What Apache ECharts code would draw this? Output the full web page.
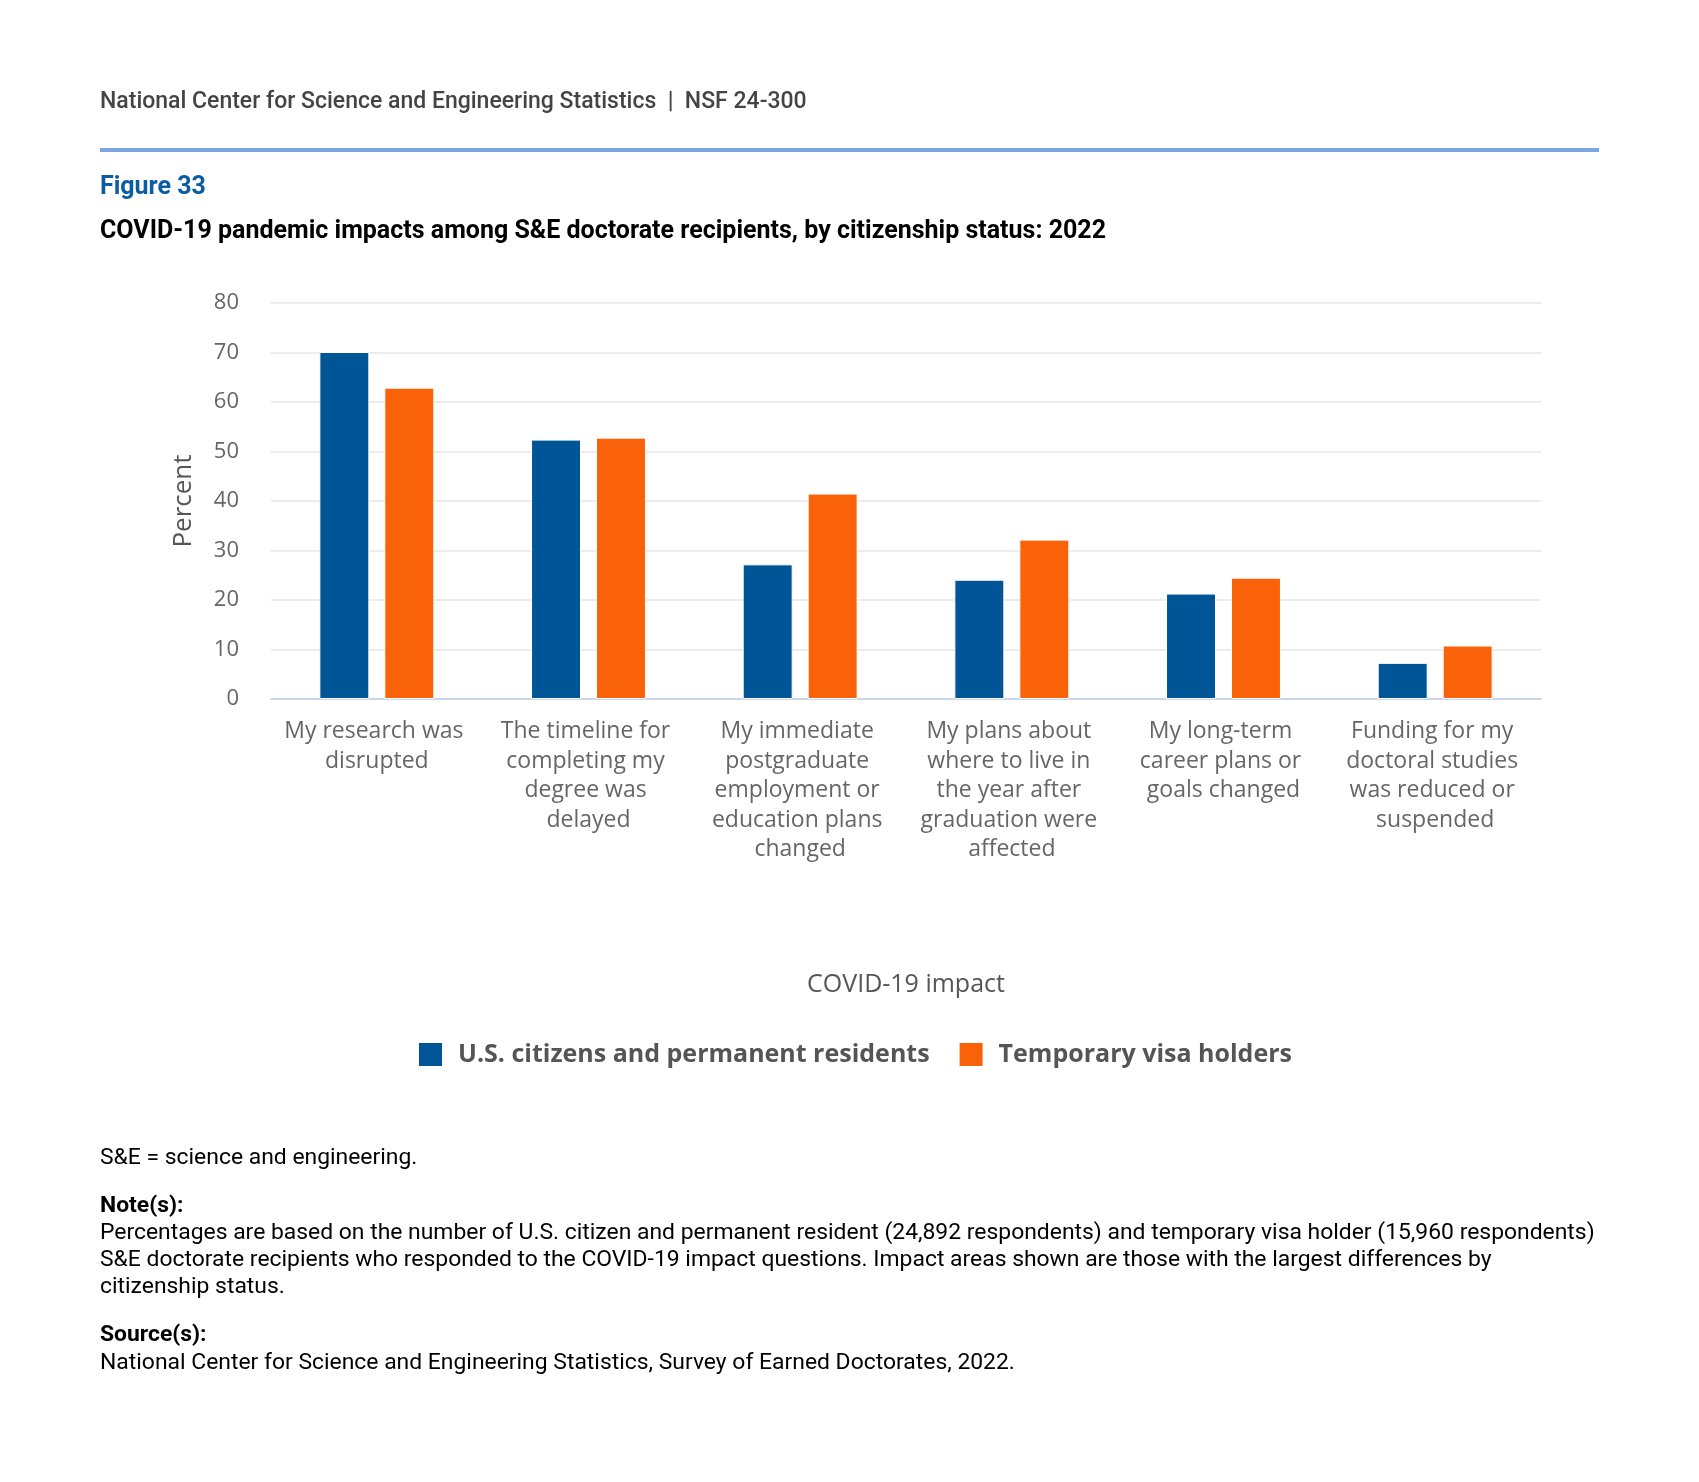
<!DOCTYPE html>
<html>
<head>
<meta charset="utf-8">
<script src="https://cdn.jsdelivr.net/npm/echarts@6/dist/echarts.min.js"></script>
<style>
html,body{margin:0;padding:0;background:#fff;}
#c{width:1699px;height:1482px;}
</style>
</head>
<body>
<div id="c"></div>
<script>
const categories = [
  "My research was disrupted",
  "The timeline for completing my degree was delayed",
  "My immediate postgraduate employment or education plans changed",
  "My plans about where to live in the year after graduation were affected",
  "My long-term career plans or goals changed",
  "Funding for my doctoral studies was reduced or suspended"
];
const seriesNames = ["U.S. citizens and permanent residents", "Temporary visa holders"];
const usCitizens = [70.1, 52.4, 27.2, 24.1, 21.3, 7.3];
const visaHolders = [62.9, 52.8, 41.5, 32.2, 24.5, 10.8];
const yTicks = { min: 0, max: 80, interval: 10 };

const headerText = "National Center for Science and Engineering Statistics  |  NSF 24-300";
const figureLabel = "Figure 33";
const titleText = "COVID-19 pandemic impacts among S&E doctorate recipients, by citizenship status: 2022";
const abbrevText = "S&E = science and engineering.";
const noteHead = "Note(s):";
const noteLines = [
  "Percentages are based on the number of U.S. citizen and permanent resident (24,892 respondents) and temporary visa holder (15,960 respondents)",
  "S&E doctorate recipients who responded to the COVID-19 impact questions. Impact areas shown are those with the largest differences by",
  "citizenship status."
];
const sourceHead = "Source(s):";
const sourceLine = "National Center for Science and Engineering Statistics, Survey of Earned Doctorates, 2022.";

const chart = echarts.init(document.getElementById('c'), null, {renderer: 'canvas'});
const FONT = "'Open Sans', sans-serif";
const RFONT = "Roboto, sans-serif";

function t(y, text, size, weight, fill) {
  return { type: 'text', x: 100, y: y, style: { text: text, fontFamily: RFONT, fontSize: size, fontWeight: weight, fill: fill, verticalAlign: 'middle' } };
}

const graphics = [
  t(102, headerText, 23, 500, '#444'),
  { type: 'rect', shape: { x: 100, y: 148, width: 1499, height: 4 }, style: { fill: '#7ba7e1' } },
  t(188, figureLabel, 25, 'bold', '#0b5ba5'),
  t(232, titleText, 25, 'bold', '#000'),
  t(1158, abbrevText, 22.9, 'normal', '#000'),
  t(1206, noteHead, 22.9, 'bold', '#000'),
  t(1233, noteLines[0], 22.9, 'normal', '#000'),
  t(1260, noteLines[1], 22.9, 'normal', '#000'),
  t(1287, noteLines[2], 22.9, 'normal', '#000'),
  t(1335, sourceHead, 22.9, 'bold', '#000'),
  t(1363, sourceLine, 22.9, 'normal', '#000')
];

chart.setOption({
  backgroundColor: '#ffffff',
  animation: false,
  textStyle: { fontFamily: FONT },
  graphic: graphics,
  grid: { left: 271, right: 158, top: 303, bottom: 783, containLabel: false },
  legend: {
    data: seriesNames,
    left: 412, top: 1036,
    itemWidth: 25, itemHeight: 25, itemGap: 28,
    icon: 'rect',
    textStyle: { fontFamily: FONT, fontSize: 25, fontWeight: 'bold', color: '#555', padding: [0, 0, 0, 10] }
  },
  xAxis: {
    type: 'category',
    data: categories,
    name: 'COVID-19 impact',
    nameLocation: 'middle',
    nameGap: 286,
    nameTextStyle: { fontFamily: FONT, fontSize: 25, color: '#555', verticalAlign: 'middle' },
    axisLine: { lineStyle: { color: '#ccd6eb', width: 2 } },
    axisTick: { alignWithLabel: true, length: 17, lineStyle: { color: '#ccd6eb', width: 1.5 } },
    axisLabel: {
      interval: 0, margin: 18,
      fontFamily: FONT, fontSize: 23, color: '#666', lineHeight: 29.5,
      width: 193, overflow: 'break', align: 'center'
    }
  },
  yAxis: {
    type: 'value',
    min: yTicks.min, max: yTicks.max, interval: yTicks.interval,
    name: 'Percent',
    nameLocation: 'middle',
    nameGap: 74,
    nameRotate: 90,
    nameTextStyle: { fontFamily: FONT, fontSize: 26, color: '#555' },
    axisLine: { show: false },
    axisTick: { show: false },
    axisLabel: { fontFamily: FONT, fontSize: 22, color: '#666', margin: 32 },
    splitLine: { lineStyle: { color: '#e6e6e6', width: 1.5 } }
  },
  series: [
    {
      name: seriesNames[0], type: 'bar', data: usCitizens,
      barGap: '30%', barCategoryGap: '45.7%',
      itemStyle: { color: '#005597', borderColor: '#ffffff', borderWidth: 1 }
    },
    {
      name: seriesNames[1], type: 'bar', data: visaHolders,
      barGap: '30%', barCategoryGap: '45.7%',
      itemStyle: { color: '#fa620a', borderColor: '#ffffff', borderWidth: 1 }
    }
  ]
});
</script>
</body>
</html>
